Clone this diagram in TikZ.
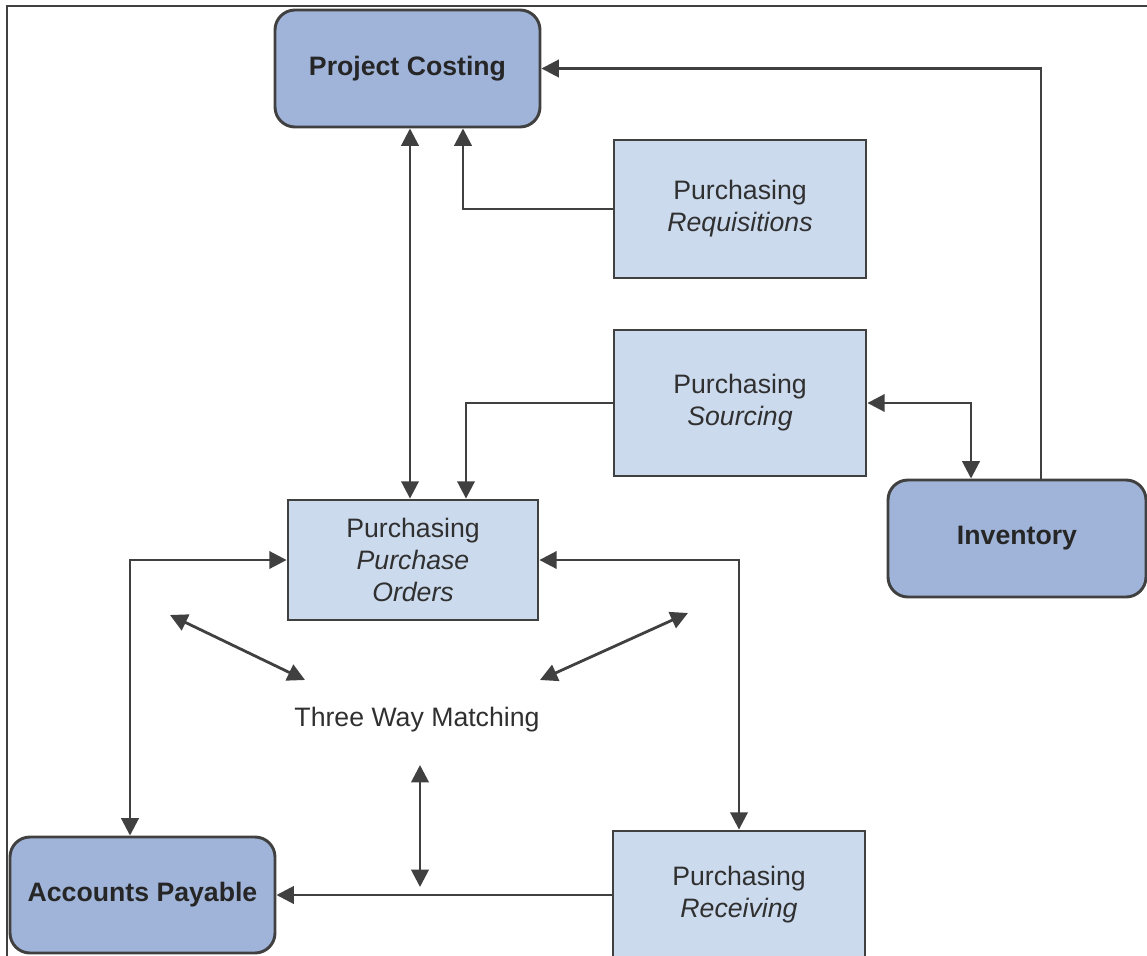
\documentclass[tikz,border=0pt]{standalone}
\usepackage{fontspec}
\setmainfont{Liberation Sans}
\usetikzlibrary{arrows.meta,calc}
\definecolor{darkfill}{HTML}{A0B4DA}
\definecolor{lightfill}{HTML}{CCDAEE}
\definecolor{edge}{HTML}{404040}
\definecolor{txt}{HTML}{303030}
\begin{document}
\begin{tikzpicture}[x=0.75pt,y=-0.75pt,
  module/.style={draw=edge,line width=2.2pt,fill=darkfill,rounded corners=15pt,
    font=\fontsize{20}{24}\selectfont\bfseries,text=black!85,align=center,inner sep=0pt},
  subbox/.style={draw=edge,line width=2.1pt,fill=lightfill,
    font=\fontsize{20}{24}\selectfont,text=txt,align=center,inner sep=0pt},
  conn/.style={draw=edge,line width=2.1pt,-{Triangle[length=13pt,width=13pt]}},
  bconn/.style={draw=edge,line width=2.1pt,{Triangle[length=13pt,width=13pt]}-{Triangle[length=13pt,width=13pt]}}]
\useasboundingbox (0,0) rectangle (1147,956);
\draw[edge,line width=1.1pt] (7,956) -- (7,6) -- (1147,6);

\node[module,minimum width=198.75pt,minimum height=87.75pt] (pc) at (407.5,68.5) {Project Costing};
\node[subbox,minimum width=189pt,minimum height=103.5pt] (req) at (740,209) {Purchasing\\\itshape Requisitions};
\node[subbox,minimum width=189pt,minimum height=109.5pt] (src) at (740,403) {Purchasing\\\itshape Sourcing};
\node[module,minimum width=193.5pt,minimum height=87.75pt] (inv) at (1017,538.5) {Inventory};
\node[subbox,minimum width=187.5pt,minimum height=90pt] (po) at (413,560) {Purchasing\\\itshape Purchase\\\itshape Orders};
\node[module,minimum width=198.75pt,minimum height=87pt] (ap) at (142.5,895) {Accounts Payable};
\node[subbox,minimum width=189pt,minimum height=96pt] (rcv) at (739,895) {Purchasing\\\itshape Receiving};
\node[font=\fontsize{20}{24}\selectfont,text=txt] (tw) at (417,720) {Three Way Matching};

\coordinate (v1) at (410,0);
\coordinate (d1a) at (170,615);
\coordinate (d1b) at (305,680);
\coordinate (d2a) at (688,613);
\coordinate (d2b) at (540,680);
\coordinate (d3a) at (420,765);
\coordinate (d3b) at (420,887);

\draw[conn] ($(inv.north)+(24,0)$) |- (pc.east);
\draw[conn] (req.west) -| ($(pc.south)+(55.5,0)$);
\draw[bconn] (pc.south -| v1) -- (po.north -| v1);
\draw[conn] (src.west) -| ($(po.north)+(53,0)$);
\draw[bconn] (src.east) -| ($(inv.north)+(-46,0)$);
\draw[bconn] (po.west) -| ($(ap.north)+(-12.5,0)$);
\draw[bconn] (po.east) -| (rcv.north);
\draw[conn] (ap.east -| rcv.west) -- (ap.east);
\draw[bconn] (d1a) -- (d1b);
\draw[bconn] (d2a) -- (d2b);
\draw[bconn] (d3a) -- (d3b);
\end{tikzpicture}
\end{document}
